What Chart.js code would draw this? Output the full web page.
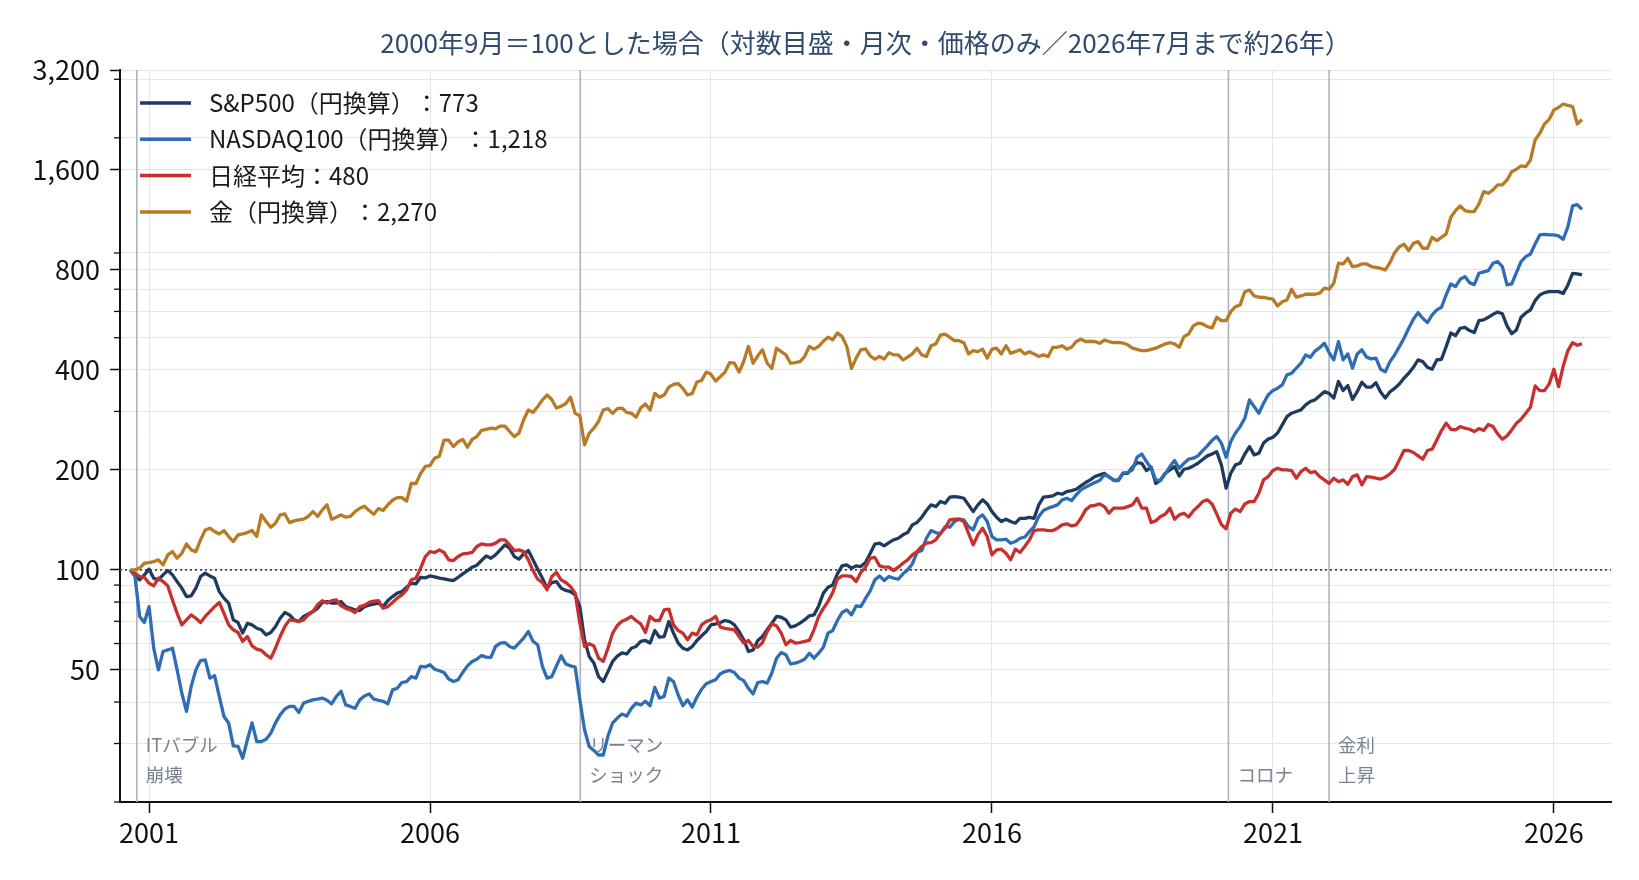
<!DOCTYPE html>
<html lang="ja">
<head>
<meta charset="utf-8">
<title>2000年9月＝100</title>
<script src="https://cdn.jsdelivr.net/npm/chart.js@4.4.1/dist/chart.umd.min.js"></script>
<style>
html, body { margin: 0; padding: 0; background: #fff; }
canvas { display: block; }
</style>
</head>
<body>
<canvas id="graph" width="1639" height="880"></canvas>
<script>
// 月次、2000年9月〜2026年7月（2000年9月＝100）。1行＝1年
var startYear = 2000, startMonth = 9;

var sp500 = [
  100, 96.6, 93.3, 96.6,
  100.5, 94.4, 93.3, 96.6, 99.5, 96.6, 92.2, 88.1, 83.1, 83.5, 88.1, 95.5,
  97.7, 95.9, 94.4, 86.0, 82.2, 79.4, 70.7, 69.4, 64.5, 69.0, 68.3, 66.7,
  66.0, 63.7, 64.8, 67.5, 71.5, 74.4, 73.2, 70.7, 69.9, 72.4, 73.7, 74.9,
  76.6, 79.8, 80.3, 79.4, 79.4, 80.3, 77.5, 76.6, 75.8, 75.4, 77.5, 78.3,
  78.8, 79.4, 77.5, 80.8, 83.1, 85.1, 86.0, 88.7, 91.2, 90.8, 95.0, 94.6,
  95.9, 95.3, 94.4, 94.0, 93.3, 92.9, 95.0, 97.3, 99.5, 101.9, 103.3, 106.7,
  110.2, 108.4, 111.0, 114.9, 118.9, 116.2, 109.7, 107.7, 111.7, 114.3, 107.2, 100.5,
  94.4, 88.1, 91.6, 92.2, 88.1, 86.7, 86.0, 84.1, 77.5, 61.6, 54.8, 52.4,
  47.7, 46.1, 49.4, 53.0, 55.0, 56.2, 55.8, 58.1, 58.8, 60.9, 61.3, 60.2,
  65.7, 62.7, 63.0, 69.9, 64.5, 60.2, 58.1, 57.4, 58.8, 61.3, 63.3, 65.2,
  68.3, 68.8, 69.4, 70.4, 69.9, 68.3, 65.2, 61.6, 56.8, 57.4, 61.3, 63.0,
  66.0, 69.1, 72.4, 72.0, 70.7, 67.2, 67.8, 69.1, 70.7, 72.7, 73.2, 77.9,
  85.1, 88.7, 90.1, 97.3, 102.8, 103.5, 101.2, 102.8, 102.3, 105.3, 112.0, 119.6,
  120.3, 118.1, 120.8, 123.1, 124.5, 127.5, 129.5, 136.6, 138.9, 144.0, 150.9, 156.9,
  155.1, 160.6, 158.7, 165.5, 166.3, 165.5, 164.3, 156.9, 149.8, 156.9, 162.5, 158.0,
  149.8, 144.0, 139.8, 142.1, 139.8, 138.2, 143.0, 143.0, 144.0, 143.0, 156.9, 165.5,
  166.3, 167.0, 170.1, 169.0, 172.1, 173.3, 174.9, 179.1, 183.2, 186.6, 191.1, 193.2,
  195.5, 190.3, 186.6, 186.2, 195.5, 195.4, 203.7, 210.4, 209.4, 199.1, 203.7, 182.0,
  186.6, 195.4, 200.0, 204.7, 191.8, 200.9, 202.3, 205.6, 209.4, 214.9, 220.4, 223.3,
  227.0, 207.1, 176.2, 195.4, 207.1, 209.4, 223.3, 235.1, 221.9, 224.4, 240.8, 247.6,
  250.8, 258.3, 273.2, 289.4, 296.3, 299.8, 303.1, 313.8, 321.3, 325.0, 334.2, 344.0,
  340, 329, 369, 347, 359, 326, 344, 367, 355, 355, 366, 343,
  329, 343.8, 351.9, 362.9, 377.8, 390.9, 407.4, 428.7, 423.8, 407.4, 401.9, 428.7,
  430.7, 470.3, 516.6, 507.2, 534.0, 537.6, 525.5, 518.3, 563.1, 565.7, 576.2, 588.3,
  597.2, 590.6, 542.7, 514.2, 527.8, 576.2, 593.6, 606.3, 646.8, 672.7, 683.6, 688.5,
  688.5, 688.5, 680.0, 721.0, 781.7, 779.0, 773
];

var nasdaq100 = [
  100, 95.5, 72.4, 69.4,
  77.5, 58.1, 50.0, 56.8, 57.4, 58.1, 50.0, 42.5, 37.5, 44.6, 50.0, 53.3,
  53.6, 47.2, 48.0, 41.6, 36.2, 34.6, 29.5, 29.4, 27.1, 30.8, 34.6, 30.4,
  30.4, 30.9, 32.2, 34.6, 36.6, 38.1, 38.8, 38.8, 37.2, 39.7, 40.2, 40.6,
  40.8, 41.1, 40.5, 39.5, 41.6, 43.1, 39.2, 38.8, 38.3, 40.6, 41.7, 42.3,
  40.8, 40.5, 40.2, 39.5, 43.5, 44.0, 45.8, 46.1, 47.7, 47.2, 51.2, 51.0,
  51.8, 50.2, 49.7, 49.1, 46.9, 46.1, 46.7, 49.1, 51.4, 53.0, 53.8, 55.2,
  54.6, 54.5, 58.8, 60.2, 60.4, 58.8, 58.1, 60.2, 62.3, 65.2, 60.9, 59.5,
  51.2, 47.2, 47.7, 51.4, 55.1, 52.1, 51.4, 51.0, 40.6, 33.0, 29.4, 28.6,
  27.7, 27.7, 31.6, 34.6, 35.8, 36.8, 36.3, 38.3, 39.7, 39.2, 40.2, 39.0,
  44.3, 41.1, 41.6, 47.2, 46.1, 42.0, 39.0, 40.6, 38.6, 41.4, 43.7, 45.4,
  46.1, 46.7, 48.7, 49.4, 49.8, 49.1, 47.2, 46.4, 44.0, 42.3, 45.8, 46.1,
  45.6, 48.9, 54.2, 56.4, 55.5, 52.1, 52.4, 53.0, 53.8, 56.1, 54.2, 56.1,
  58.5, 64.5, 65.7, 70.4, 74.4, 75.8, 73.2, 77.9, 77.5, 82.0, 86.4, 93.3,
  95.9, 92.9, 95.5, 94.4, 93.7, 97.3, 100.0, 104.2, 112.8, 114.3, 124.5, 131.3,
  129.5, 128.3, 135.0, 134.4, 139.8, 142.1, 141.4, 135.0, 132.0, 143.0, 146.4, 139.8,
  126.0, 123.1, 123.1, 123.7, 120.3, 121.7, 124.5, 125.4, 130.4, 135.0, 144.8, 150.9,
  153.4, 155.1, 156.9, 162.5, 164.3, 161.6, 168.2, 174.1, 177.4, 180.3, 183.2, 185.8,
  193.2, 191.1, 185.8, 185.6, 195.5, 196.3, 200.0, 218.4, 223.3, 211.9, 202.3, 186.6,
  185.8, 194.5, 204.7, 213.4, 202.3, 209.4, 215.4, 216.9, 220.4, 228.6, 236.3, 245.4,
  252.0, 240.8, 218.4, 243.4, 258.3, 270.0, 286.1, 325.0, 310.0, 296.3, 317.5, 336.4,
  346.8, 352.4, 360.6, 386.4, 390.9, 404.9, 419.0, 443.8, 436.7, 455.8, 466.7, 481,
  451, 429, 487, 429, 447, 405, 447, 460, 437, 432, 434, 402,
  395, 423.8, 443.8, 470.2, 498.2, 533.9, 568.3, 595.2, 572.2, 555.3, 585.6, 606.3,
  617.6, 672.7, 726.0, 712.7, 749.9, 763.9, 732.7, 722.6, 781.7, 789.0, 796.3, 837.9,
  847.6, 818.7, 721.0, 726.0, 785.4, 847.6, 877.4, 893.8, 958.0, 1019.6, 1024.4, 1019.6,
  1019.6, 1012.6, 989.5, 1080.3, 1246.7, 1258.2, 1218
];

var nikkei = [
  100, 97.7, 95.5, 95.0,
  91.2, 89.5, 94.4, 92.2, 89.5, 81.2, 74.0, 68.3, 70.7, 73.2, 71.5, 69.4,
  72.4, 74.9, 77.5, 79.8, 74.0, 68.3, 66.0, 64.8, 60.9, 63.0, 59.0, 57.7,
  57.2, 55.5, 54.2, 58.1, 63.0, 67.5, 70.7, 70.3, 69.9, 70.7, 73.2, 74.9,
  78.5, 80.8, 79.4, 80.8, 81.2, 77.9, 76.6, 75.8, 74.4, 77.5, 78.2, 79.8,
  80.5, 80.8, 76.6, 77.5, 79.8, 82.2, 84.1, 87.1, 93.3, 94.4, 101.2, 109.7,
  113.5, 112.8, 114.9, 112.8, 107.2, 106.7, 109.7, 111.7, 112.2, 112.8, 117.6, 119.7,
  118.9, 118.9, 120.3, 123.1, 123.1, 118.9, 114.3, 114.9, 113.5, 107.2, 99.5, 93.7,
  91.6, 87.1, 95.5, 98.2, 93.3, 91.6, 89.1, 85.1, 69.1, 58.8, 59.9, 59.0,
  54.2, 53.0, 58.1, 64.5, 68.0, 70.0, 71.0, 72.4, 70.4, 68.8, 64.8, 72.4,
  70.4, 70.4, 75.8, 76.2, 68.3, 65.7, 64.5, 61.6, 64.5, 63.7, 68.3, 69.9,
  70.7, 72.4, 67.2, 66.7, 66.3, 66.0, 63.0, 60.2, 61.3, 58.8, 58.5, 60.4,
  65.2, 68.8, 67.8, 64.5, 59.5, 61.3, 60.2, 60.4, 60.9, 61.3, 66.0, 72.4,
  76.6, 80.3, 85.4, 93.7, 95.9, 95.9, 95.5, 92.2, 98.2, 101.8, 108.4, 109.0,
  102.8, 101.9, 101.9, 99.5, 101.9, 104.7, 107.2, 111.0, 113.5, 117.6, 120.3, 120.8,
  123.1, 128.9, 133.5, 141.4, 142.1, 142.1, 139.8, 128.9, 118.9, 127.5, 133.5, 126.0,
  111.0, 114.9, 115.4, 112.2, 107.2, 115.4, 112.8, 117.6, 123.1, 131.3, 132.0, 132.0,
  131.3, 131.3, 133.5, 136.6, 137.6, 135.6, 136.6, 143.0, 151.6, 155.7, 156.4, 158.0,
  155.1, 148.1, 153.4, 153.4, 153.4, 155.1, 156.9, 164.3, 153.4, 153.4, 138.9, 140.5,
  144.8, 147.1, 153.4, 142.1, 146.4, 148.1, 144.3, 150.5, 155.1, 160.6, 162.5, 157.9,
  147.4, 137.0, 133.0, 148.1, 152.4, 149.8, 157.9, 160.6, 160.6, 170.1, 186.6, 190.9,
  199.1, 202.3, 200.0, 200.0, 199.1, 188.8, 197.7, 202.3, 196.3, 197.7, 190.9, 186.6,
  182.0, 188.8, 184.3, 186.6, 181.1, 190.9, 193.2, 180.3, 190.9, 190.3, 188.8, 187.7,
  190.1, 194.5, 200.9, 214.4, 228.8, 228.8, 225.6, 220.3, 215.4, 228.8, 230.9, 246.2,
  262.7, 276.4, 265.1, 263.9, 270.1, 267.0, 265.1, 260.9, 266.4, 262.7, 273.9, 270.1,
  256.7, 247.4, 253.2, 263.9, 276.4, 284.1, 296.2, 308.8, 358.0, 346.6, 346.6, 363.0,
  401.9, 356.4, 411.2, 457.4, 483.4, 474.6, 480
];

var gold = [
  100, 100, 101.2, 104.7,
  105.2, 105.9, 107.2, 103.5, 110.9, 113.5, 108.4, 112.2, 119.7, 114.9, 113.5, 123.1,
  131.9, 133.5, 130.4, 128.3, 131.4, 126.0, 121.7, 127.4, 128.3, 129.5, 131.4, 126.0,
  146.4, 139.8, 134.4, 138.2, 146.4, 147.4, 138.8, 140.4, 141.4, 142.1, 144.8, 149.8,
  144.8, 151.6, 157.0, 142.1, 144.1, 146.4, 144.1, 144.8, 149.8, 153.3, 155.5, 151,
  147, 153, 151, 157, 162, 165, 165, 161, 182, 182, 195, 205,
  206, 217, 220, 246, 246, 235, 243, 247, 234, 247, 252, 263,
  265, 267, 266, 271, 271, 261, 252, 258, 283, 303, 298, 310,
  325, 336, 326, 307, 311, 317, 331, 296, 291, 238, 258, 267,
  280, 303, 306, 296, 306, 307, 298, 296, 288, 307, 316, 303,
  340, 331, 336, 355, 362, 364, 352, 336, 340, 368, 372, 394,
  388, 370, 382, 394, 421, 419, 394, 424, 471, 419, 441, 460,
  419, 404, 465, 454, 444, 419, 421, 424, 439, 471, 462, 471,
  488, 502, 493, 517, 504, 471, 404, 434, 460, 463, 441, 431,
  439, 431, 451, 444, 444, 429, 437, 447, 465, 444, 439, 473,
  479, 509, 513, 501, 490, 490, 483, 447, 457, 454, 462, 434,
  462, 465, 447, 473, 449, 454, 460, 447, 454, 447, 439, 444,
  439, 468, 468, 473, 462, 468, 487, 495, 487, 488, 487, 481,
  492, 487, 483, 484, 482, 476, 465, 461, 457, 457, 461, 465,
  472, 479, 483, 479, 468, 504, 513, 543, 553, 550, 540, 535,
  576, 563, 563, 599, 620, 628, 688, 696, 668, 662, 661, 657,
  653, 623, 642, 650, 700, 662, 668, 676, 677, 676, 681, 705,
  700, 730, 838, 834, 867, 819, 823, 834, 834, 819, 815, 809,
  800, 842, 902, 940, 956, 915, 962, 974, 930, 930, 1003, 980,
  1003, 1027, 1153, 1207, 1247, 1207, 1199, 1199, 1264, 1377, 1361, 1393,
  1442, 1442, 1493, 1582, 1608, 1645, 1638, 1715, 1970, 2063, 2201, 2273,
  2425, 2470, 2528, 2505, 2482, 2201, 2270
];

var seriesNames = ['S&P500（円換算）', 'NASDAQ100（円換算）', '日経平均', '金（円換算）'];
var seriesColors = ['#1f3a5f', '#2e6db4', '#c8302e', '#b97a26'];

var yearTicks = [2001, 2006, 2011, 2016, 2021, 2026];
var yMajorTicks = [50, 100, 200, 400, 800, 1600, 3200];
var yMinorTicks = [20, 30, 40, 60, 70, 80, 90, 300, 500, 600, 700, 900, 2000, 3000];

// 出来事（月の位置：2000年9月＝0）
var eventPos = [1.4, 96.1, 234.5, 256.0];
var eventText = [['ITバブル', '崩壊'], ['リーマン', 'ショック'], ['', 'コロナ'], ['金利', '上昇']];

var titleText = '2000年9月＝100とした場合（対数目盛・月次・価格のみ／2026年7月まで約26年）';
var FONT = '"Noto Sans CJK JP", "Noto Sans", sans-serif';

Chart.defaults.font.family = FONT;

var toPoints = function(arr){
  return arr.map(function(v, i){ return {x: i, y: v}; });
};
var monthIndex = function(year){
  return (year - startYear) * 12 - (startMonth - 1);
};

var decor = {
  id: 'decor',
  beforeDatasetsDraw: function(chart){
    var ctx = chart.ctx, a = chart.chartArea;
    var xs = chart.scales.x, ys = chart.scales.y;
    ctx.save();
    // 出来事の縦線
    ctx.strokeStyle = '#aab1c0';
    ctx.lineWidth = 1.6;
    eventPos.forEach(function(p){
      var x = xs.getPixelForValue(p);
      ctx.beginPath(); ctx.moveTo(x, a.top); ctx.lineTo(x, a.bottom); ctx.stroke();
    });
    // 100 の基準線
    var y100 = ys.getPixelForValue(100);
    ctx.strokeStyle = '#3d4350';
    ctx.lineWidth = 1.6;
    ctx.setLineDash([2, 3]);
    ctx.beginPath(); ctx.moveTo(a.left, y100); ctx.lineTo(a.right, y100); ctx.stroke();
    ctx.setLineDash([]);
    // 補助目盛
    ctx.strokeStyle = '#111';
    ctx.lineWidth = 1.3;
    yMinorTicks.forEach(function(v){
      var y = ys.getPixelForValue(v);
      ctx.beginPath(); ctx.moveTo(a.left - 6, y); ctx.lineTo(a.left, y); ctx.stroke();
    });
    ctx.restore();
  },
  afterDraw: function(chart){
    var ctx = chart.ctx, a = chart.chartArea;
    var xs = chart.scales.x;
    ctx.save();
    // タイトル
    ctx.font = '26px ' + FONT;
    ctx.fillStyle = '#2f4a6e';
    ctx.textAlign = 'center';
    ctx.textBaseline = 'middle';
    ctx.fillText(titleText, (a.left + a.right) / 2, 43);
    // 凡例（「）：」が詰まらないよう名前と値を分けて描く）
    ctx.textAlign = 'left';
    ctx.font = '24px ' + FONT;
    chart.data.datasets.forEach(function(ds, i){
      var y = a.top + 33 + i * 36.3;
      ctx.strokeStyle = ds.borderColor;
      ctx.lineWidth = 3.5;
      ctx.beginPath(); ctx.moveTo(a.left + 20, y); ctx.lineTo(a.left + 71, y); ctx.stroke();
      var last = ds.data[ds.data.length - 1].y;
      ctx.fillStyle = '#1a1a1a';
      var x0 = a.left + 89;
      ctx.fillText(ds.label, x0, y);
      var w = ctx.measureText(ds.label).width;
      ctx.fillText('：' + Math.round(last).toLocaleString('en-US'), x0 + w, y);
    });
    // 出来事ラベル
    ctx.font = '18.5px ' + FONT;
    ctx.fillStyle = '#7b8392';
    eventPos.forEach(function(p, i){
      var x = xs.getPixelForValue(p) + 9;
      ctx.fillText(eventText[i][0], x, a.bottom - 57);
      ctx.fillText(eventText[i][1], x, a.bottom - 27);
    });
    ctx.restore();
  }
};

var drawGraph = function(){
  var ctx = document.getElementById('graph').getContext('2d');
  var allSeries = [sp500, nasdaq100, nikkei, gold];
  var datasets = allSeries.map(function(arr, i){
    return {
      label: seriesNames[i],
      data: toPoints(arr),
      borderColor: seriesColors[i],
      backgroundColor: seriesColors[i],
      borderWidth: 3.3,
      pointRadius: 0,
      tension: 0,
      fill: false,
      borderJoinStyle: 'round',
      order: allSeries.length - 1 - i
    };
  });

  new Chart(ctx, {
    type: 'line',
    data: { datasets: datasets },
    options: {
      responsive: false,
      animation: false,
      devicePixelRatio: 1,
      events: [],
      layout: { padding: { top: 70, right: 28, bottom: 0, left: 0 } },
      plugins: {
        legend: { display: false },
        title: { display: false },
        tooltip: { enabled: false }
      },
      scales: {
        x: {
          type: 'linear',
          min: -2.2,
          max: 316.2,
          afterBuildTicks: function(scale){
            scale.ticks = yearTicks.map(function(y){ return {value: monthIndex(y)}; });
          },
          afterFit: function(scale){
            scale.height = 78;
            scale.paddingLeft = 0; scale.paddingRight = 0;
          },
          ticks: {
            autoSkip: false,
            maxRotation: 0,
            padding: 4,
            color: '#111',
            font: { size: 27 },
            callback: function(v){
              return String(startYear + (v + startMonth - 1) / 12);
            }
          },
          grid: {
            color: '#e3e5ea',
            lineWidth: 1,
            tickLength: 11,
            tickColor: '#111',
            tickWidth: 1.5
          },
          border: { display: true, color: '#111', width: 2 }
        },
        y: {
          type: 'logarithmic',
          min: 20,
          max: 3200,
          afterBuildTicks: function(scale){
            scale.ticks = yMajorTicks.concat(yMinorTicks)
              .sort(function(p, q){ return p - q; })
              .map(function(v){ return {value: v}; });
          },
          afterFit: function(scale){
            scale.width = 120;
            scale.paddingTop = 0; scale.paddingBottom = 0;
          },
          ticks: {
            autoSkip: false,
            padding: 10,
            color: '#111',
            font: { size: 27 },
            callback: function(v){
              return yMajorTicks.indexOf(v) >= 0 ? v.toLocaleString('en-US') : '';
            }
          },
          grid: {
            color: '#e3e5ea',
            lineWidth: 1,
            tickLength: 10,
            tickWidth: 1.5,
            tickColor: function(c){
              return c.tick && yMajorTicks.indexOf(c.tick.value) >= 0 ? '#111' : 'rgba(0,0,0,0)';
            }
          },
          border: { display: true, color: '#111', width: 2 }
        }
      }
    },
    plugins: [decor]
  });
};

window.onload = function(){
  drawGraph();
};
</script>
</body>
</html>
